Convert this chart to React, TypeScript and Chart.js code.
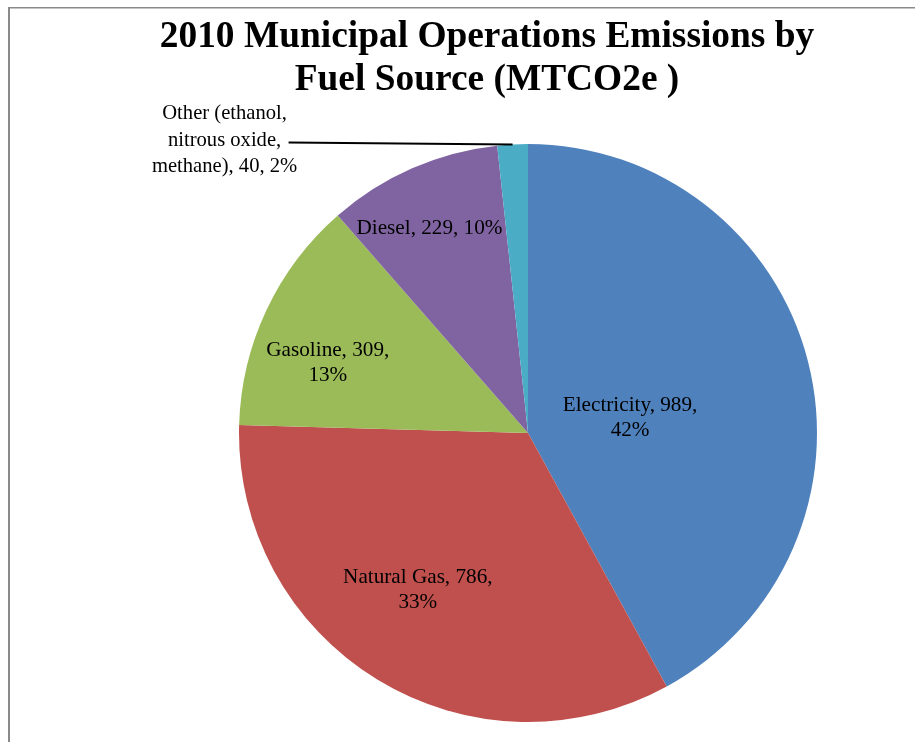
import React, { useEffect, useRef } from "react";
import { Chart, registerables } from "chart.js";

Chart.register(...registerables);

const categories = ["Electricity", "Natural Gas", "Gasoline", "Diesel", "Other (ethanol, nitrous oxide, methane)"];
const values = [989, 786, 309, 229, 40];
const percents = ["42%", "33%", "13%", "10%", "2%"];
const colors = ["#4F81BD", "#C0504D", "#9BBB59", "#8064A2", "#4BACC6"];
const titleLines = ["2010 Municipal Operations Emissions by", "Fuel Source (MTCO2e )"];

// label text lines per slice
const labelLines = [
  [`${categories[0]}, ${values[0]},`, percents[0]],
  [`${categories[1]}, ${values[1]},`, percents[1]],
  [`${categories[2]}, ${values[2]},`, percents[2]],
  [`${categories[3]}, ${values[3]}, ${percents[3]}`],
  ["Other (ethanol,", "nitrous oxide,", `methane), ${values[4]}, ${percents[4]}`],
];

const SERIF = "'Liberation Serif', 'Times New Roman', serif";

const framePlugin = {
  id: "frame",
  beforeDraw(chart: any) {
    const ctx = chart.ctx;
    ctx.save();
    ctx.fillStyle = "#ffffff";
    ctx.fillRect(0, 0, chart.width, chart.height);
    ctx.fillStyle = "#8a8a8a";
    ctx.fillRect(8, 7, 2, chart.height - 7);
    ctx.fillRect(8, 7, chart.width - 8, 1.5);
    ctx.restore();
  },
};

const titlePlugin = {
  id: "customTitle",
  afterDraw(chart: any) {
    const ctx = chart.ctx;
    ctx.save();
    ctx.fillStyle = "#000";
    ctx.font = `bold 37.4px ${SERIF}`;
    ctx.textAlign = "center";
    ctx.textBaseline = "alphabetic";
    ctx.fillText(titleLines[0], 487, 47);
    ctx.fillText(titleLines[1], 487, 90);
    ctx.restore();
  },
};

// per-slice label placement: angular tweak (deg) and radius fraction
const placement = [
  { da: 5.9, rf: 0.357 },
  { da: 3.6, rf: 0.664 },
  { da: -5.9, rf: 0.734 },
  { da: -2.1, rf: 0.785 },
];

const labelPlugin = {
  id: "sliceLabels",
  afterDatasetsDraw(chart: any) {
    const ctx = chart.ctx;
    const meta = chart.getDatasetMeta(0);
    ctx.save();
    ctx.fillStyle = "#000";
    ctx.textAlign = "center";
    ctx.textBaseline = "middle";
    const lh = 25;
    meta.data.forEach((arc: any, i: number) => {
      const { x, y, startAngle, endAngle, outerRadius } = arc.getProps(
        ["x", "y", "startAngle", "endAngle", "outerRadius"],
        true
      );
      const mid = (startAngle + endAngle) / 2;
      const lines = labelLines[i];
      if (i < placement.length) {
        ctx.font = `21.2px ${SERIF}`;
        const a = mid + (placement[i].da * Math.PI) / 180;
        const r = outerRadius * placement[i].rf;
        const cx = x + Math.cos(a) * r;
        const cy = y + Math.sin(a) * r;
        const y0 = cy - ((lines.length - 1) * lh) / 2;
        lines.forEach((t, k) => ctx.fillText(t, cx, y0 + k * lh));
      } else {
        ctx.font = `20.6px ${SERIF}`;
        const px = x + Math.cos(mid) * outerRadius;
        const py = y + Math.sin(mid) * outerRadius;
        ctx.strokeStyle = "#000";
        ctx.lineWidth = 2;
        ctx.beginPath();
        ctx.moveTo(px, py);
        ctx.lineTo(px - 224, py - 2);
        ctx.stroke();
        const cx = px - 288;
        const cy = py - 4;
        const y0 = cy - ((lines.length - 1) * 26.5) / 2;
        lines.forEach((t, k) => ctx.fillText(t, cx, y0 + k * 26.5));
      }
    });
    ctx.restore();
  },
};

export default function App() {
  const ref = useRef<HTMLCanvasElement | null>(null);
  useEffect(() => {
    if (!ref.current) return;
    const chart = new Chart(ref.current, {
      type: "pie",
      data: {
        labels: categories,
        datasets: [
          {
            data: values,
            backgroundColor: colors,
            borderWidth: 0,
          },
        ],
      },
      options: {
        animation: false,
        responsive: false,
        devicePixelRatio: 1,
        layout: { padding: { left: 239, right: 98, top: 144, bottom: 20 } },
        plugins: {
          legend: { display: false },
          tooltip: { enabled: false },
          title: { display: false },
        },
      },
      plugins: [framePlugin, titlePlugin, labelPlugin],
    });
    return () => chart.destroy();
  }, []);
  return (
    <div style={{ position: "fixed", left: 0, top: 0, width: 915, height: 742 }}>
      <canvas ref={ref} width={915} height={742} style={{ display: "block" }} />
    </div>
  );
}
